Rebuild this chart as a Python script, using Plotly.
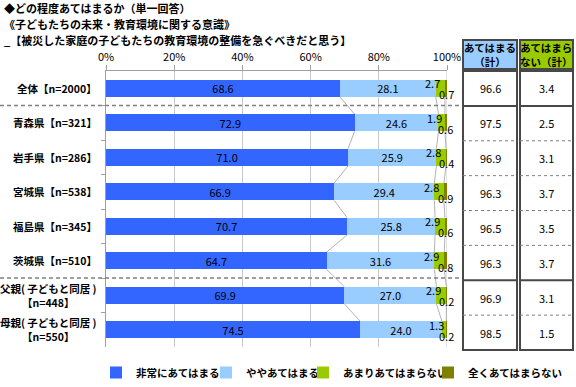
import plotly.graph_objects as go

# ---------------- data ----------------
categories = ["全体【n=2000】", "青森県【n=321】", "岩手県【n=286】", "宮城県【n=538】",
              "福島県【n=345】", "茨城県【n=510】",
              "父親( 子どもと同居 )<br>【n=448】", "母親( 子どもと同居 )<br>【n=550】"]
series_names = ["非常にあてはまる", "ややあてはまる", "あまりあてはまらない", "全くあてはまらない"]
very = [68.6, 72.9, 71.0, 66.9, 70.7, 64.7, 69.9, 74.5]
somewhat = [28.1, 24.6, 25.9, 29.4, 25.8, 31.6, 27.0, 24.0]
not_much = [2.7, 1.9, 2.8, 2.8, 2.9, 2.9, 2.9, 1.3]
not_at_all = [0.7, 0.6, 0.4, 0.9, 0.6, 0.8, 0.2, 0.2]
total_agree = [96.6, 97.5, 96.9, 96.3, 96.5, 96.3, 96.9, 98.5]
total_disagree = [3.4, 2.5, 3.1, 3.7, 3.5, 3.7, 3.1, 1.5]
table_headers = ["あてはまる<br>（計）", "あてはまら<br>ない（計）"]
x_ticks = [0, 20, 40, 60, 80, 100]
x_ticklabels = ["0%", "20%", "40%", "60%", "80%", "100%"]
title_lines = ["◆どの程度あてはまるか（単一回答）",
               "《子どもたちの未来・教育環境に関する意識》",
               "_【被災した家庭の子どもたちの教育環境の整備を急ぐべきだと思う】"]

colors = ["#3366FF", "#99CCFF", "#99CC00", "#808000"]
FONT = "Noto Sans CJK JP"

# ---------------- geometry helpers (page pixels) ----------------
W, H = 576, 387
PLOT_L, PLOT_R, PLOT_T, PLOT_B = 106, 447, 71, 347
ML, MR, MT, MB = PLOT_L, W - PLOT_R, PLOT_T, H - PLOT_B
PW = PLOT_R - PLOT_L
PH = PLOT_B - PLOT_T


def px_x(p):
    return (p - PLOT_L) / PW


def px_y(p):
    return (PLOT_B - p) / PH


ypos = list(range(len(categories)))
series = [very, somewhat, not_much, not_at_all]
legend_ids = ["legend", "legend2", "legend3", "legend4"]
legend_left_px = [96, 206, 303, 428]

fig = go.Figure()
for k, (name, vals) in enumerate(zip(series_names, series)):
    show_text = k < 2
    fig.add_trace(go.Bar(
        y=ypos, x=vals, name=name, orientation="h",
        marker=dict(color=colors[k], line=dict(width=0)),
        width=0.5,
        text=[f"{v:.1f}" for v in vals] if show_text else None,
        textposition="inside" if show_text else "none",
        insidetextanchor="middle",
        constraintext="none",
        textfont=dict(family=FONT, size=11, color="black"),
        insidetextfont=dict(family=FONT, size=11, color="black"),
        legend=legend_ids[k],
        hoverinfo="skip",
    ))

shapes = []
annotations = []

# series connector lines
cums = []
for i in ypos:
    c1 = very[i]
    c2 = c1 + somewhat[i]
    c3 = c2 + not_much[i]
    cums.append((c1, c2, c3))
for i in ypos[:-1]:
    for b in range(3):
        shapes.append(dict(type="line", xref="x", yref="y",
                           x0=cums[i][b], y0=i + 0.25, x1=cums[i + 1][b], y1=i + 0.75,
                           line=dict(color="#A0A0A0", width=0.8), layer="below"))

# 100% grid line
shapes.append(dict(type="line", xref="x", yref="paper", x0=100, x1=100, y0=0, y1=1,
                   line=dict(color="#C8C8C8", width=1), layer="below"))

# small labels for series 3 & 4
for i in ypos:
    annotations.append(dict(xref="x", yref="y", x=cums[i][1] + not_much[i] / 2, y=i,
                            text=f"{not_much[i]:.1f}", showarrow=False, xanchor="right",
                            xshift=2, yshift=5,
                            font=dict(family=FONT, size=11, color="black")))
    annotations.append(dict(xref="x", yref="y", x=cums[i][2] + not_at_all[i] / 2, y=i,
                            text=f"{not_at_all[i]:.1f}", showarrow=False, xanchor="center",
                            xshift=0, yshift=-6,
                            font=dict(family=FONT, size=11, color="black")))

# category labels
for i, c in enumerate(categories):
    annotations.append(dict(xref="paper", yref="y", x=px_x(99), y=i, text=c,
                            showarrow=False, xanchor="right", align="center",
                            font=dict(family=FONT, size=10.5, color="black", weight="bold")))

# dashed separators
for yv in (0.5, 5.5):
    shapes.append(dict(type="line", xref="paper", yref="y", x0=px_x(0), x1=px_x(461),
                       y0=yv, y1=yv, line=dict(color="#808080", width=1.5, dash="4px,3px")))

# table
cols = [(463, 517), (520, 573)]
head_colors = ["#99CCFF", "#99CC00"]
body_top, body_bot = 71, 350
row_h = (body_bot - body_top) / len(categories)
border = "#484848"
for j, (x0, x1) in enumerate(cols):
    shapes.append(dict(type="rect", xref="paper", yref="paper",
                       x0=px_x(x0), x1=px_x(x1), y0=px_y(69), y1=px_y(40),
                       fillcolor=head_colors[j], line=dict(color=border, width=2)))
    shapes.append(dict(type="rect", xref="paper", yref="paper",
                       x0=px_x(x0), x1=px_x(x1), y0=px_y(body_bot), y1=px_y(body_top),
                       fillcolor="white", line=dict(color=border, width=2)))
    for r in range(1, len(categories)):
        yy = body_top + r * row_h
        if r in (1, 6):
            ln = dict(color=border, width=2)
        else:
            ln = dict(color="#808080", width=1, dash="dot")
        shapes.append(dict(type="line", xref="paper", yref="paper",
                           x0=px_x(x0), x1=px_x(x1), y0=px_y(yy), y1=px_y(yy), line=ln))
    annotations.append(dict(xref="paper", yref="paper", x=px_x((x0 + x1) / 2), y=px_y(55),
                            text=table_headers[j], showarrow=False,
                            xanchor="center", yanchor="middle", align="center",
                            font=dict(family=FONT, size=10.5, color="black", weight="bold")))
    vals = total_agree if j == 0 else total_disagree
    for r, v in enumerate(vals):
        annotations.append(dict(xref="paper", yref="paper", x=px_x((x0 + x1) / 2),
                                y=px_y(body_top + (r + 0.5) * row_h),
                                text=f"{v:.1f}", showarrow=False,
                                xanchor="center", yanchor="middle",
                                font=dict(family=FONT, size=11, color="black")))

# titles
for k, t in enumerate(title_lines):
    annotations.append(dict(xref="paper", yref="paper", x=px_x(2), y=px_y(8 + k * 16),
                            text=t, showarrow=False, xanchor="left", yanchor="middle",
                            font=dict(family=FONT, size=11, color="black", weight="bold")))

legend_common = dict(orientation="h", yanchor="top", y=px_y(358), xanchor="left",
                     font=dict(family=FONT, size=10.5, color="black", weight="bold"),
                     itemwidth=30, bgcolor="rgba(0,0,0,0)", borderwidth=0)

fig.update_layout(
    width=W, height=H,
    margin=dict(l=ML, r=MR, t=MT, b=MB, autoexpand=False),
    barmode="stack",
    paper_bgcolor="white", plot_bgcolor="white",
    showlegend=True,
    xaxis=dict(range=[0, 100], side="top", tickvals=x_ticks, ticktext=x_ticklabels,
               ticks="outside", ticklen=5, tickcolor="#A0A0A0",
               showline=True, linecolor="#A0A0A0", linewidth=1,
               showgrid=True, gridcolor="#C8C8C8", gridwidth=1, zeroline=False,
               tickfont=dict(family=FONT, size=11, color="black"), fixedrange=True),
    yaxis=dict(range=[len(categories) - 0.5, -0.5], tickvals=ypos, showticklabels=False,
               ticks="", showline=True, linecolor="#A0A0A0", linewidth=1,
               showgrid=False, zeroline=False,
               minor=dict(tickvals=[i + 0.5 for i in ypos[:-1]], ticks="outside",
                          ticklen=4, tickcolor="#A0A0A0"),
               fixedrange=True),
    shapes=shapes,
    annotations=annotations,
    font=dict(family=FONT),
)
for k, lid in enumerate(legend_ids):
    fig.update_layout({lid: dict(legend_common, x=px_x(legend_left_px[k]))})

# remove the browser's default 8px body margin so the figure fills the window
fig.write_html("out.html",
               config={"displayModeBar": False, "staticPlot": True},
               post_script="document.body.style.margin='0';document.body.style.overflow='hidden';")
